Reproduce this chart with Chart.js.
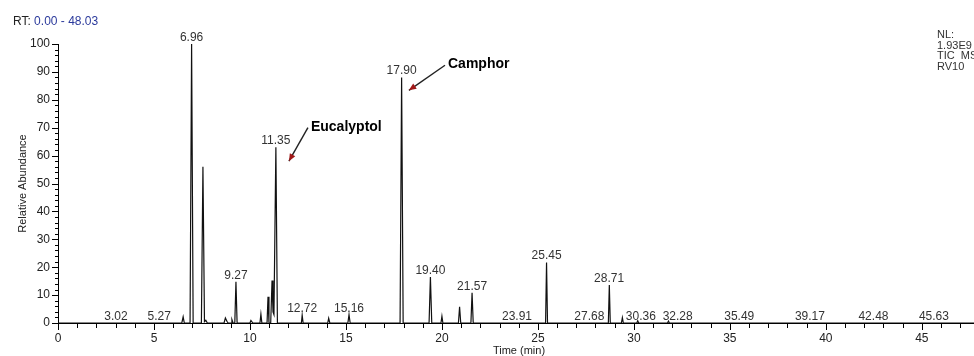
<!DOCTYPE html>
<html>
<head>
<meta charset="utf-8">
<script src="https://cdn.jsdelivr.net/npm/chart.js@4"></script>
<style>
  html, body { margin: 0; padding: 0; background: #fff; overflow: hidden; }
  #wrap { width: 1000px; height: 356px; }
</style>
</head>
<body>
<div id="wrap"><canvas id="grafica" width="1000" height="356"></canvas></div>
<script>
// trace (time in min, relative abundance in %)
const traceTime = [0, 6.45, 6.52, 6.58, 6.88, 6.96, 7.04, 7.47, 7.55, 7.63, 7.70, 7.78,
  8.65, 8.72, 8.80, 8.86, 9.02, 9.06, 9.12, 9.21, 9.27, 9.33, 10.00, 10.05, 10.15,
  10.52, 10.57, 10.62, 10.89, 10.94, 10.99, 11.08, 11.15, 11.20, 11.25, 11.35, 11.43,
  12.68, 12.72, 12.77, 14.05, 14.10, 14.16, 15.10, 15.16, 15.22, 17.82, 17.90, 17.98,
  19.33, 19.40, 19.47, 19.95, 20.00, 20.05, 20.86, 20.92, 20.98, 21.51, 21.57, 21.63,
  25.40, 25.45, 25.50, 28.67, 28.72, 28.77, 29.35, 29.40, 29.45,
  30.15, 30.20, 30.25, 31.75, 31.80, 31.85, 48.03];
const traceAbund = [0, 0, 2.2, 0, 0, 100, 0, 0, 56, 0.5, 1.0, 0,
  0, 1.8, 0.6, 0, 0, 1.2, 0, 0, 14.8, 0, 0, 0.9, 0,
  0, 3.2, 0, 0, 9.4, 0, 0, 15.2, 4, 3, 63, 0,
  0, 2.8, 0, 0, 1.7, 0, 0, 3.0, 0, 0, 88, 0,
  0, 16.5, 0, 0, 2.4, 0, 0, 5.8, 0, 0, 10.8, 0,
  0, 21.7, 0, 0, 13.6, 0, 0, 1.9, 0,
  0, 0.8, 0, 0, 0.7, 0, 0];

// retention time labels and the height they sit on
const rtLabels = ['3.02', '5.27', '6.96', '9.27', '11.35', '12.72', '15.16', '17.90', '19.40',
  '21.57', '23.91', '25.45', '27.68', '28.71', '30.36', '32.28', '35.49', '39.17', '42.48', '45.63'];
const rtHeights = [0, 0, 100, 14.8, 63, 2.8, 3.0, 88, 16.5, 10.8, 0, 21.7, 0, 13.6, 0, 0, 0, 0, 0, 0];

// compound annotations: text, arrow tip and arrow tail (time, abundance)
const compounds = ['Eucalyptol', 'Camphor'];
const arrowTip = [[12.03, 58], [18.28, 83.4]];
const arrowTail = [[13.02, 70], [20.16, 92.4]];

const yTicks = [0, 10, 20, 30, 40, 50, 60, 70, 80, 90, 100];
const rtRange = [0.00, 48.03];

const puntos = traceTime.map((t, i) => ({ x: t, y: traceAbund[i] }));

const FONT = 'Arial, "Liberation Sans", sans-serif';

const decor = {
  id: 'decor',
  afterDraw(chart) {
    const ctx = chart.ctx;
    const x = chart.scales.x, y = chart.scales.y;
    const y0 = y.getPixelForValue(0);
    const xl = x.getPixelForValue(0);
    ctx.save();
    ctx.strokeStyle = '#000';
    ctx.lineWidth = 1;
    ctx.beginPath();
    // x ticks, every minute, longer every 5
    for (let m = 0; m <= 48; m++) {
      const px = Math.round(x.getPixelForValue(m)) + 0.5;
      ctx.moveTo(px, y0);
      ctx.lineTo(px, y0 + (m % 5 === 0 ? 7 : 5));
    }
    // y ticks, every 2 %, longer every 10
    for (let v = 0; v <= 100; v += 2) {
      const py = Math.round(y.getPixelForValue(v)) + 0.5;
      ctx.moveTo(xl, py);
      ctx.lineTo(xl - (v % 10 === 0 ? 6 : 3), py);
    }
    ctx.stroke();

    // retention time labels
    ctx.fillStyle = '#333';
    ctx.font = '12px ' + FONT;
    ctx.textAlign = 'center';
    ctx.textBaseline = 'alphabetic';
    rtLabels.forEach((lab, i) => {
      ctx.fillText(lab, x.getPixelForValue(parseFloat(lab)), y.getPixelForValue(rtHeights[i]) - 3);
    });

    // compound names with arrows
    compounds.forEach((name, i) => {
      const tx = x.getPixelForValue(arrowTip[i][0]), ty = y.getPixelForValue(arrowTip[i][1]);
      const sx = x.getPixelForValue(arrowTail[i][0]), sy = y.getPixelForValue(arrowTail[i][1]);
      ctx.strokeStyle = '#222';
      ctx.lineWidth = 1.4;
      ctx.beginPath();
      ctx.moveTo(sx, sy);
      ctx.lineTo(tx, ty);
      ctx.stroke();
      const ang = Math.atan2(ty - sy, tx - sx);
      ctx.fillStyle = '#a01818';
      ctx.beginPath();
      ctx.moveTo(tx, ty);
      ctx.lineTo(tx - 8 * Math.cos(ang - 0.4), ty - 8 * Math.sin(ang - 0.4));
      ctx.lineTo(tx - 8 * Math.cos(ang + 0.4), ty - 8 * Math.sin(ang + 0.4));
      ctx.closePath();
      ctx.fill();
      ctx.fillStyle = '#000';
      ctx.font = 'bold 14px ' + FONT;
      ctx.textAlign = 'left';
      ctx.textBaseline = 'middle';
      ctx.fillText(name, sx + 3, sy - 1);
    });

    // header texts
    ctx.font = '12px ' + FONT;
    ctx.textAlign = 'left';
    ctx.textBaseline = 'middle';
    ctx.fillStyle = '#222';
    ctx.fillText('RT:', 13, 22);
    const w = ctx.measureText('RT: ').width;
    ctx.fillStyle = '#2b3a9c';
    ctx.fillText(rtRange[0].toFixed(2) + ' - ' + rtRange[1].toFixed(2), 13 + w, 22);

    ctx.fillStyle = '#333';
    ctx.font = '11px ' + FONT;
    ['NL:', '1.93E9', 'TIC  MS', 'RV10'].forEach((s, i) => ctx.fillText(s, 937, 35 + i * 10.5));
    ctx.restore();
  }
};

const config = {
  type: 'line',
  data: {
    datasets: [{
      label: 'TIC',
      data: puntos,
      borderColor: '#111',
      borderWidth: 1.2,
      pointRadius: 0,
      tension: 0,
      fill: false
    }]
  },
  options: {
    responsive: false,
    animation: false,
    layout: { padding: { left: 0, right: 20, top: 44, bottom: 0 } },
    plugins: { legend: { display: false }, tooltip: { enabled: false } },
    scales: {
      x: {
        type: 'linear',
        min: rtRange[0],
        max: rtRange[1],
        grid: { display: false, drawTicks: false },
        border: { display: true, color: '#000', width: 1 },
        afterBuildTicks: s => { s.ticks = s.ticks.filter(t => t.value % 5 === 0); },
        afterFit: s => { s.height = 33; },
        ticks: { stepSize: 5, padding: 8, color: '#222', font: { family: FONT, size: 12 }, maxRotation: 0 },
        title: { display: true, text: 'Time (min)', color: '#222', padding: 0, font: { family: FONT, size: 11, lineHeight: 1 } }
      },
      y: {
        min: 0,
        max: 100,
        grid: { display: false, drawTicks: false },
        border: { display: true, color: '#000', width: 1 },
        afterBuildTicks: s => { s.ticks = yTicks.map(v => ({ value: v })); },
        afterFit: s => { s.width = 58; },
        ticks: { padding: 8, color: '#222', font: { family: FONT, size: 12 } },
        title: { display: true, text: 'Relative Abundance', color: '#222', padding: { top: 17.5, bottom: 0 }, font: { family: FONT, size: 11, lineHeight: 1 } }
      }
    }
  },
  plugins: [decor]
};

const chart = new Chart(document.querySelector('#grafica'), config);
</script>
</body>
</html>
